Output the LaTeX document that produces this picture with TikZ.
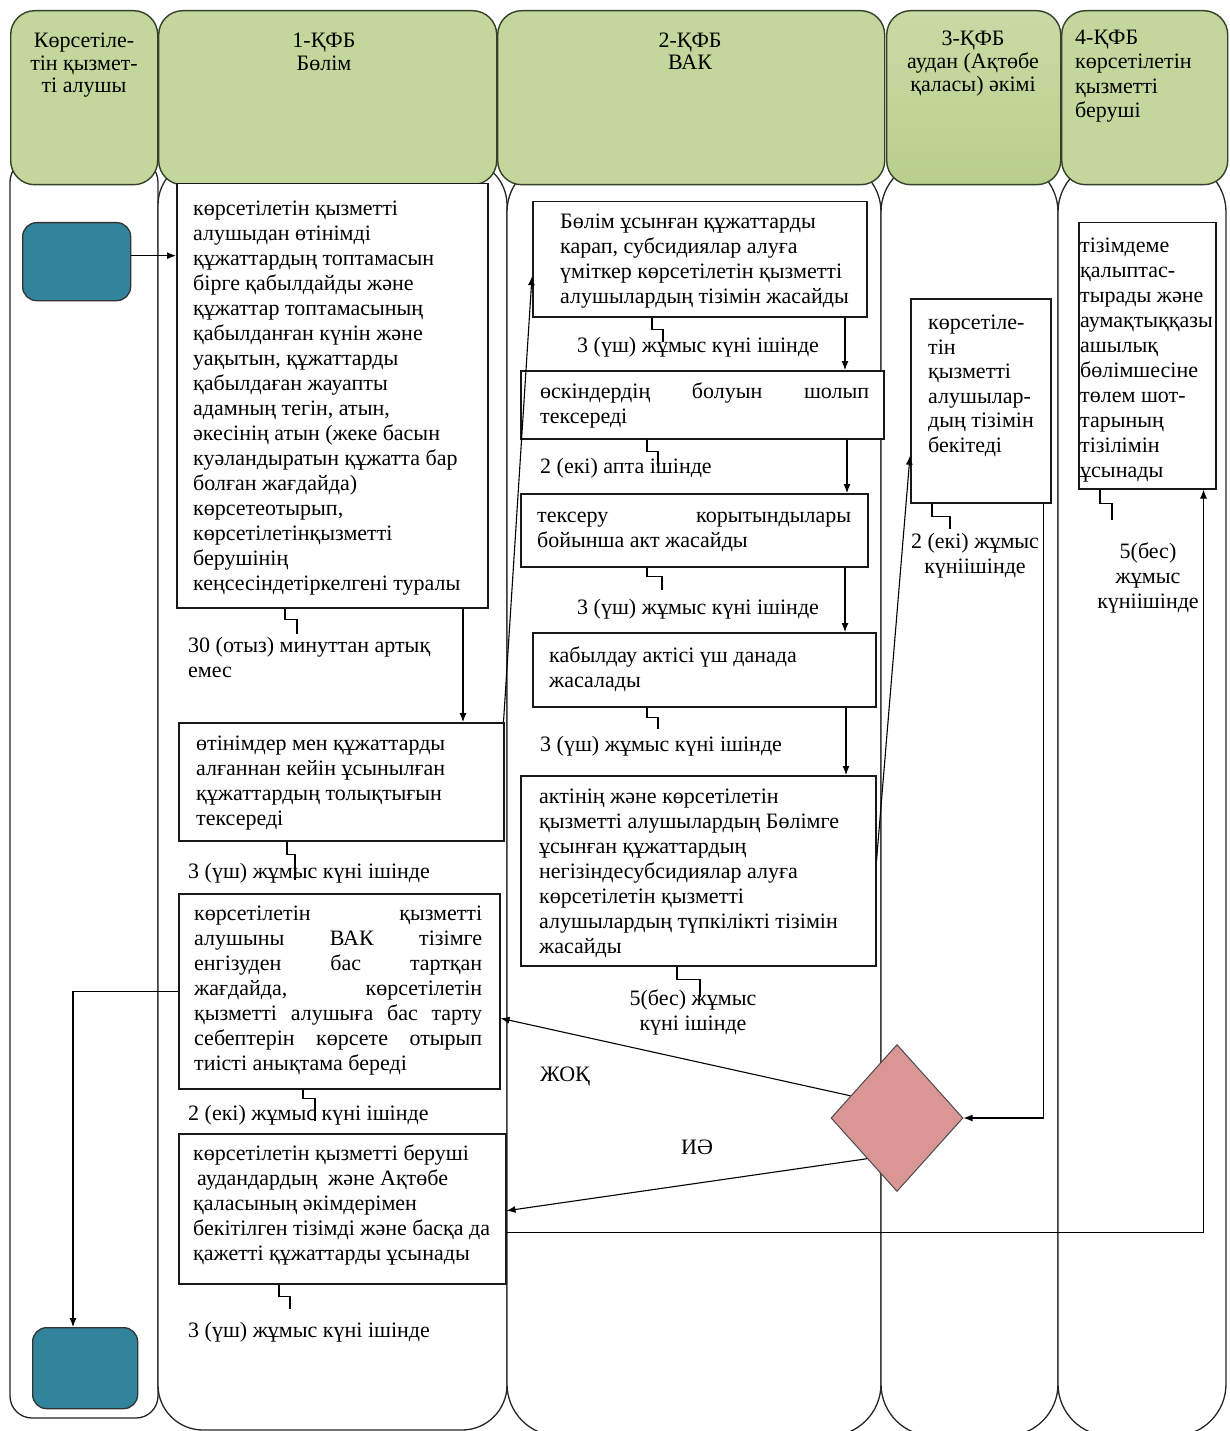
\documentclass[tikz,border=0pt]{standalone}
\usepackage{fontspec}
\setmainfont{Liberation Serif}
\usetikzlibrary{arrows.meta,shapes.geometric,calc}
\definecolor{hdrfill}{HTML}{C3D69B}
\definecolor{hdrmid}{HTML}{8FB04F}
\definecolor{hdrline}{HTML}{35422A}
\definecolor{termfill}{HTML}{31849B}
\definecolor{decfill}{HTML}{D99694}
\newcommand\bodyfont{\fontsize{22}{25}\selectfont}
\newcommand\jl[2]{\makebox[#1pt][s]{#2}}
\begin{document}
\begin{tikzpicture}[x=1pt,y=-1pt,
  lanebody/.style={draw=black!85,line width=1.3pt,fill=white},
  hdrbox/.style={draw=hdrline,line width=1.4pt,fill=hdrfill,rounded corners=24pt,anchor=north west,inner sep=0pt},
  term/.style={draw=black!80,line width=1.3pt,fill=termfill,rounded corners=14pt,anchor=north west,inner sep=0pt},
  procbox/.style={draw=black!90,line width=1.5pt,fill=white,anchor=north west,inner sep=0pt},
  txt/.style={font=\bodyfont,align=left,anchor=base west,inner sep=0pt},
  ctxt/.style={font=\bodyfont,align=center,anchor=base,inner sep=0pt},
  hook/.style={draw=black,line width=1.1pt},
  arr/.style={draw=black,line width=1.1pt,-{Latex[length=9pt,width=7pt]}},
  dec/.style={diamond,draw=black!70,line width=1pt,fill=decfill,inner sep=0pt}]
\useasboundingbox (0,0) rectangle (1229,1431);
\clip (0,0) rectangle (1229,1431);
\fill[white] (0,0) rectangle (1229,1431);
% lane bodies
\draw[lanebody,rounded corners=22pt] (10,160) rectangle (158,1418);
\draw[lanebody,rounded corners=45pt] (158,160) rectangle (507,1430);
\draw[lanebody,rounded corners=52pt] (507,160) rectangle (881,1436);
\draw[lanebody,rounded corners=52pt] (881,160) rectangle (1058,1436);
\draw[lanebody,rounded corners=52pt] (1058,160) rectangle (1226,1436);
% headers
\node[hdrbox,minimum width=147,minimum height=174] (h0) at (10,10) {};
\node[hdrbox,minimum width=338,minimum height=174] (h1) at (158,10) {};
\node[hdrbox,minimum width=387,minimum height=174] (h2) at (497,10) {};
\node[hdrbox,minimum width=174,minimum height=174,top color=hdrfill!90!white,middle color=hdrmid,bottom color=hdrfill!80!hdrmid] (h3) at (886,10) {};
\node[hdrbox,minimum width=166,minimum height=174] (h4) at (1061,10) {};
\node[ctxt,font=\fontsize{22}{22.5}\selectfont] (h0t) at (84,93) {Көрсетіле-\\тін қызмет-\\ті алушы};
\node[ctxt,font=\fontsize{22}{23}\selectfont] (h1t) at (324,71) {1-ҚФБ\\Бөлім};
\node[ctxt,font=\fontsize{22}{22}\selectfont] (h2t) at (690,70) {2-ҚФБ\\ВАК};
\node[ctxt,font=\fontsize{22}{23}\selectfont] (h3t) at (973,92) {3-ҚФБ\\аудан (Ақтөбе\\қаласы) әкімі};
\node[txt,font=\fontsize{22}{24.5}\selectfont] (h4t) at (1075,118) {4-ҚФБ\\көрсетілетін\\қызметті\\беруші};
% terminals
\node[term,minimum width=108,minimum height=78] (S) at (22,222) {};
\node[term,minimum width=105,minimum height=81] (E) at (32,1327) {};
% process boxes
\node[procbox,minimum width=311,minimum height=424] (A) at (176,183) {};
\node[procbox,minimum width=325,minimum height=118] (B) at (178,722) {};
\node[procbox,minimum width=321,minimum height=195] (C) at (178,893) {};
\node[procbox,minimum width=327,minimum height=150] (Dbx) at (178,1133) {};
\node[procbox,minimum width=334,minimum height=115] (A2) at (532,201) {};
\node[procbox,minimum width=363,minimum height=68] (B2) at (520,370) {};
\node[procbox,minimum width=347,minimum height=73] (C2) at (520,493) {};
\node[procbox,minimum width=343,minimum height=74] (D2) at (532,632) {};
\node[procbox,minimum width=355,minimum height=190] (E2) at (520,775) {};
\node[procbox,minimum width=140,minimum height=204] (A3) at (910,298) {};
\node[procbox,minimum width=137,minimum height=266] (A4) at (1078,222) {};
\node[dec,minimum width=132,minimum height=147] (Dm) at (897,1118) {};
% box texts (base anchor = baseline of last line)
\node[txt] (tA) at (193,590) {көрсетілетін қызметті\\алушыдан өтінімді\\құжаттардың топтамасын\\бірге қабылдайды және\\құжаттар топтамасының\\қабылданған күнін және\\уақытын, құжаттарды\\қабылдаған жауапты\\адамның тегін, атын,\\әкесінің атын (жеке басын\\куәландыратын құжатта бар\\болған жағдайда)\\көрсетеотырып,\\көрсетілетінқызметті\\берушінің\\кеңсесіндетіркелгені туралы};
\node[txt] (tB) at (196,825) {өтінімдер мен құжаттарды\\алғаннан кейін ұсынылған\\құжаттардың толықтығын\\тексереді};
\node[txt] (tC) at (194,1070) {\jl{288}{көрсетілетін қызметті}\\\jl{288}{алушыны ВАК тізімге}\\\jl{288}{енгізуден бас тартқан}\\\jl{288}{жағдайда, көрсетілетін}\\\jl{288}{қызметті алушыға бас тарту}\\\jl{288}{себептерін көрсете отырып}\\тиісті анықтама береді};
\node[txt] (tD) at (193,1260) {көрсетілетін қызметті беруші\\\hspace*{4pt}аудандардың\hspace{5pt} және Ақтөбе\\қаласының әкімдерімен\\бекітілген тізімді және басқа да\\қажетті құжаттарды ұсынады};
\node[txt] (tA2) at (560,303) {Бөлім ұсынған құжаттарды\\карап, субсидиялар алуға\\үміткер көрсетілетін қызметті\\алушылардың тізімін жасайды};
\node[txt] (tB2) at (540,423) {\jl{329}{өскіндердің болуын шолып}\\тексереді};
\node[txt] (tC2) at (537,547) {\jl{314}{тексеру корытындылары}\\бойынша акт жасайды};
\node[txt] (tD2) at (549,687) {кабылдау актісі үш данада\\жасалады};
\node[txt] (tE2) at (539,953) {актінің және көрсетілетін\\қызметті алушылардың Бөлімге\\ұсынған құжаттардың\\негізіндесубсидиялар алуға\\көрсетілетін қызметті\\алушылардың түпкілікті тізімін\\жасайды};
\node[txt,font=\fontsize{22}{24.5}\selectfont] (tA3) at (928,452) {көрсетіле-\\тін\\қызметті\\алушылар-\\дың тізімін\\бекітеді};
\node[txt] (tA4) at (1080,477) {тізімдеме\\қалыптас-\\тырады және\\аумақтыққазы\\ашылық\\бөлімшесіне\\төлем шот-\\тарының\\тізілімін\\ұсынады};
% duration labels
\node[txt] (lA) at (188,677) {30 (отыз) минуттан артық\\емес};
\node[txt] (lB) at (188,878) {3 (үш) жұмыс күні ішінде};
\node[txt] (lC) at (188,1120) {2 (екі) жұмыс күні ішінде};
\node[txt] (lD) at (188,1337) {3 (үш) жұмыс күні ішінде};
\node[txt] (lA2) at (577,352) {3 (үш) жұмыс күні ішінде};
\node[txt] (lB2) at (540,473) {2 (екі) апта ішінде};
\node[txt] (lC2) at (577,614) {3 (үш) жұмыс күні ішінде};
\node[txt] (lD2) at (540,751) {3 (үш) жұмыс күні ішінде};
\node[ctxt] (lE2) at (693,1030) {5(бес) жұмыс\\күні ішінде};
\node[ctxt] (lA3) at (975,573) {2 (екі) жұмыс\\күніішінде};
\node[ctxt] (lA4) at (1148,608) {5(бес)\\жұмыс\\күніішінде};
\node[ctxt] (no) at (565,1081) {ЖОҚ};
\node[ctxt] (yes) at (697,1154) {ИӘ};
% hooks
\draw[hook] ([xshift=109pt]A.south west) -- ++(0,11) -- ++(12,0) -- ++(0,14);
\draw[hook] ([xshift=109pt]B.south west) -- ++(0,13) -- ++(8,0) -- ++(0,25);
\draw[hook] ([xshift=125pt]C.south west) -- ++(0,9) -- ++(12,0) -- ++(0,22);
\draw[hook] ([xshift=101pt]Dbx.south west) -- ++(0,12) -- ++(11,0) -- ++(0,12);
\draw[hook] ([xshift=120pt]A2.south west) -- ++(0,12) -- ++(11,0) -- ++(0,12);
\draw[hook] ([xshift=127pt]B2.south west) -- ++(0,12) -- ++(11,0) -- ++(0,14);
\draw[hook] ([xshift=127pt]C2.south west) -- ++(0,9) -- ++(15,0) -- ++(0,13);
\draw[hook] ([xshift=115pt]D2.south west) -- ++(0,10) -- ++(11,0) -- ++(0,11);
\draw[hook] ([xshift=157pt]E2.south west) -- ++(0,13) -- ++(23,0) -- ++(0,17);
\draw[hook] ([xshift=22pt]A3.south west) -- ++(0,13) -- ++(18,0) -- ++(0,12);
\draw[hook] ([xshift=22pt]A4.south west) -- ++(0,14) -- ++(12,0) -- ++(0,16);
% connectors
\draw[arr] ([yshift=6pt]S.east) -- ([yshift=6pt]S.east -| A.west);
\draw[arr] ([xshift=287pt]A.south west) -- ([xshift=285pt]B.north west);
\draw[arr] ([xshift=-1pt]B.north east) -- ([yshift=-17pt]A2.west);
\draw[arr] ([xshift=313pt]A2.south west) -- ([xshift=325pt]B2.north west);
\draw[arr] ([xshift=327pt]B2.south west) -- ([xshift=327pt]C2.north west);
\draw[arr] ([xshift=325pt]C2.south west) -- ([xshift=313pt]D2.north west);
\draw[arr] ([xshift=314pt]D2.south west) -- ([xshift=326pt]E2.north west);
\draw[arr] ([yshift=10pt]E2.east) -- ([yshift=-55pt]A3.west);
\draw[arr] ([xshift=-8pt]A3.south east) |- (Dm.east);
\draw[arr] ($(Dm.west)!0.3!(Dm.north)$) -- ([yshift=-27pt]C.east);
\draw[arr] ($(Dm.west)!0.55!(Dm.south)$) -- ([yshift=-2pt]Dbx.east);
\draw[arr] ([yshift=-24pt]Dbx.east) -| ([xshift=-13pt]A4.south east);
\draw[arr] (C.west) -| ([xshift=41pt]E.north west);
\end{tikzpicture}
\end{document}
